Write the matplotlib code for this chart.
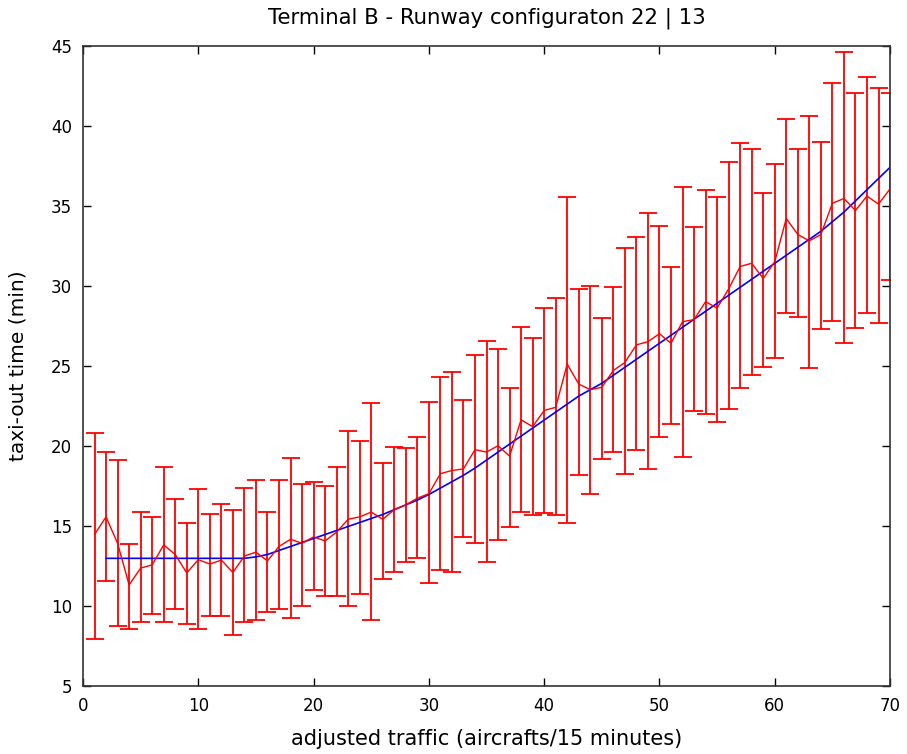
import numpy as np
import matplotlib
matplotlib.use("Agg")
import matplotlib.pyplot as plt

# traffic levels (aircrafts / 15 min)
traffic = list(range(1, 71))

# mean taxi-out time per traffic level (red line)
mean_taxi = [14.45, 15.55, 13.9, 11.3, 12.35, 12.55, 13.8, 13.2, 12.05, 12.88,
             12.6, 12.85, 12.08, 13.1, 13.35, 12.8, 13.7, 14.15, 13.9, 14.3,
             14.05, 14.6, 15.4, 15.55, 15.85, 15.4, 16.0, 16.3, 16.72, 17.0,
             18.25, 18.45, 18.55, 19.75, 19.6, 20.0, 19.35, 21.62, 21.19, 22.2,
             22.4, 25.1, 23.85, 23.5, 23.65, 24.7, 25.2, 26.3, 26.5, 27.0,
             26.4, 27.75, 27.88, 29.0, 28.6, 29.8, 31.2, 31.4, 30.45, 31.5,
             34.2, 33.2, 32.8, 33.2, 35.15, 35.45, 34.7, 35.6, 35.1, 36.05]

# lower / upper ends of the error bars
lower = [7.92, 11.55, 8.74, 8.53, 8.99, 9.46, 9.01, 9.8, 8.86, 8.53,
         9.36, 9.36, 8.15, 8.99, 9.11, 9.59, 9.8, 9.21, 10.0, 10.98,
         10.6, 10.6, 10.0, 10.73, 9.11, 11.67, 12.13, 12.71, 12.96, 11.44,
         12.23, 12.13, 14.27, 13.9, 12.71, 14.11, 14.94, 15.88, 15.67, 15.78,
         15.67, 15.19, 18.17, 16.96, 19.15, 19.58, 18.23, 19.73, 18.54, 20.56,
         21.36, 19.27, 22.17, 21.96, 21.46, 22.3, 23.59, 24.42, 24.9, 25.46,
         28.28, 28.06, 24.83, 27.29, 27.79, 26.4, 27.33, 28.27, 27.69, 30.35]
upper = [20.78, 19.59, 19.11, 13.86, 15.86, 15.53, 18.65, 16.69, 15.15, 17.28,
         15.74, 16.34, 15.99, 17.38, 17.84, 15.84, 17.84, 19.25, 17.58, 17.71,
         17.48, 18.65, 20.92, 20.31, 22.65, 18.9, 19.94, 19.83, 20.52, 22.75,
         24.27, 24.58, 22.86, 25.67, 26.56, 26.03, 23.59, 27.44, 26.71, 28.63,
         29.21, 35.53, 29.8, 29.98, 28.0, 29.9, 32.33, 33.02, 34.56, 33.73,
         31.15, 36.19, 33.65, 35.98, 35.57, 37.76, 38.9, 38.53, 35.82, 37.59,
         40.42, 38.54, 40.63, 38.96, 42.65, 44.58, 42.02, 43.06, 42.38, 42.06]

# fitted model (blue line)
fit_traffic = list(range(2, 71))
fit_taxi = [12.96, 12.96, 12.96, 12.96, 12.96, 12.96, 12.96, 12.96, 12.96, 12.96,
            12.96, 12.96, 12.96, 13.05, 13.2, 13.45, 13.7, 13.95, 14.2, 14.45,
            14.7, 14.95, 15.2, 15.45, 15.7, 16.0, 16.3, 16.6, 16.95, 17.35,
            17.75, 18.15, 18.6, 19.1, 19.6, 20.1, 20.6, 21.1, 21.6, 22.1,
            22.6, 23.1, 23.5, 23.9, 24.4, 24.9, 25.4, 25.9, 26.4, 26.9,
            27.4, 27.9, 28.4, 28.9, 29.4, 29.9, 30.4, 30.9, 31.4, 31.9,
            32.4, 32.9, 33.4, 34.0, 34.6, 35.3, 36.0, 36.7, 37.4]

plt.rcParams['font.family'] = ['DejaVu Sans']

fig = plt.figure(figsize=(9.07, 7.54), dpi=100)
ax = fig.add_axes([0.0915, 0.0906, 0.8898, 0.8488])

m = np.array(mean_taxi)
yerr = [m - np.array(lower), np.array(upper) - m]
ax.errorbar(traffic, mean_taxi, yerr=yerr, color="#ff0000", lw=1.0,
            elinewidth=1.3, capsize=6.5, capthick=1.3)
ax.plot(fit_traffic, fit_taxi, color="#0000ff", lw=1.2)

ax.set_xlim(0, 70)
ax.set_ylim(5, 45)
ax.set_xticks(range(0, 71, 10))
ax.set_yticks(range(5, 46, 5))
ax.tick_params(direction="in", top=True, right=True, length=6, width=1,
               labelsize=12, colors="#000000", pad=8)
for s in ax.spines.values():
    s.set_color("#333333")
    s.set_linewidth(1.2)

ax.set_title("Terminal B - Runway configuraton 22 | 13", fontsize=15.3, pad=16)
ax.set_xlabel("adjusted traffic (aircrafts/15 minutes)", fontsize=15, labelpad=10)
ax.set_ylabel("taxi-out time (min)", fontsize=14.5, labelpad=17)

fig.savefig("out.png", dpi=100, facecolor="white")
